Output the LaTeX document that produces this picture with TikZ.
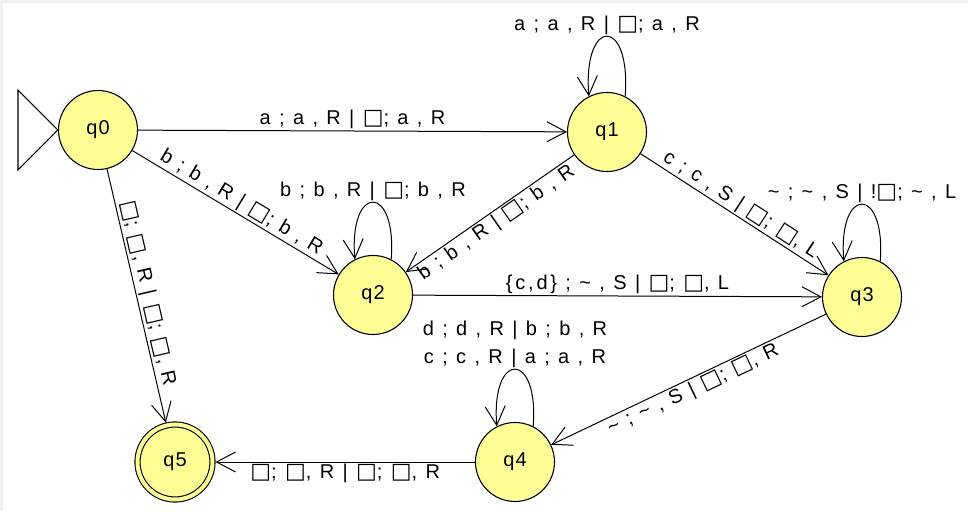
\documentclass[tikz,border=0pt]{standalone}
\usepackage{fontspec}
\setmainfont{Liberation Sans}
\newfontfamily\lblfont[LetterSpace=14]{Liberation Sans}
\newfontfamily\stfont[LetterSpace=6]{Liberation Sans}
\newfontfamily\sqfont{DejaVu Sans}
\usetikzlibrary{arrows.meta}
\definecolor{stfill}{RGB}{255,255,150}
\definecolor{bgray}{RGB}{240,240,240}
\newcommand{\bl}{{\sqfont\fontsize{22}{20}\selectfont □}}
\newcommand{\tl}{\textasciitilde}
\begin{document}
\begin{tikzpicture}[x=1pt,y=1pt,
  state/.style={circle, draw=black, line width=1.1pt, fill=stfill, minimum size=79pt, inner sep=0pt, font=\fontsize{20}{22}\selectfont\stfont},
  accept/.style={state, double=stfill, double distance=4pt, minimum size=75pt, outer sep=3pt},
  edge/.style={draw=black, line width=1pt, -{Straight Barb[length=19pt,width=20pt,line width=1pt]}},
  lbl/.style={font=\fontsize{20}{28}\selectfont\lblfont, inner sep=1.5pt, text=black}
]
\useasboundingbox (0,0) rectangle (968,511);
\fill[bgray] (0,0) rectangle (968,511);
\fill[white] (3,0) rectangle (968,508);

\node[state] (q0) at (98,381) {q0};
\node[state] (q1) at (607,379) {q1};
\node[state] (q2) at (373,216) {q2};
\node[state] (q3) at (862,214) {q3};
\node[state] (q4) at (515,49) {q4};
\node[accept] (q5) at (175,49) {q5};

\draw[line width=1.1pt] (q0.west) -- ++(-40,40) -- ++(0,-80) -- cycle;

\draw[edge] (q0) -- node[lbl,above] {a ; a , R | \bl; a , R} (q1);
\draw[edge] (q0) -- node[lbl,above,sloped] {b ; b , R | \bl; b , R} (q2);
\draw[edge] (q0) -- node[lbl,above,sloped] {\bl; \bl, R | \bl; \bl, R} (q5);
\draw[edge] (q1) -- node[lbl,below,sloped] {b ; b , R | \bl; b , R} (q2);
\draw[edge] (q1) -- node[lbl,above,sloped] {c ; c , S | \bl; \bl, L} (q3);
\draw[edge] (q2) -- node[lbl,above] {\{c,d\} ; \tl{} , S | \bl; \bl, L} (q3);
\draw[edge] (q3) -- node[lbl,below,sloped] {\tl{} ; \tl{} , S | \bl; \bl, R} (q4);
\draw[edge] (q4) -- node[lbl,below] {\bl; \bl, R | \bl; \bl, R} (q5);

\draw[edge] (q1.63) .. controls +(6,80) and +(-6,80) .. node[lbl,above] {a ; a , R | \bl; a , R} (q1.117);
\draw[edge] (q2.63) .. controls +(6,76) and +(-6,76) .. node[lbl,above] {b ; b , R | \bl; b , R} (q2.117);
\draw[edge] (q3.63) .. controls +(6,76) and +(-6,76) .. node[lbl,above] {\tl{} ; \tl{} , S | !\bl; \tl{} , L} (q3.117);
\draw[edge] (q4.63) .. controls +(6,76) and +(-6,76) .. node[lbl,above,align=center] {d ; d , R | b ; b , R\\c ; c , R | a ; a , R} (q4.117);
\end{tikzpicture}
\end{document}
